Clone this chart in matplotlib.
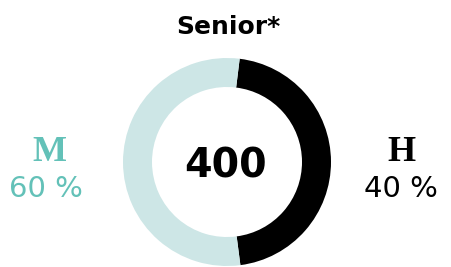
import numpy as np
import matplotlib
matplotlib.use('Agg')
import matplotlib.pyplot as plt

# data
title = u'Senior*'
total = u'400'
groups = [u'H', u'M']
pct_labels = [u'40 %', u'60 %']
ring_share = [46, 54]   # arc sizes as drawn in the picture

col_dark = '#000000'
col_ring = '#cde6e6'
col_teal = '#63c1b8'

fig = plt.figure(figsize=(4.52, 2.67), dpi=100)
ax = fig.add_axes([0, 0, 1, 1])

ax.pie(ring_share, colors=[col_dark, col_ring], startangle=83, counterclock=False,
       center=(227, 105), radius=104, wedgeprops=dict(width=29, linewidth=0))

ax.set_xlim(0, 452)
ax.set_ylim(0, 267)
ax.set_aspect('equal')
ax.axis('off')

ax.text(228, 240, title, ha='center', va='center', fontsize=18, fontweight='bold', family='DejaVu Sans')
ax.text(226, 101, total, ha='center', va='center', fontsize=28.5, fontweight='bold', family='DejaVu Sans')

# right : H
ax.text(401, 115, groups[0], ha='center', va='center', fontsize=26, fontweight='bold',
        family='Liberation Serif', color=col_dark)
ax.text(401, 78, pct_labels[0], ha='center', va='center', fontsize=21,
        family='DejaVu Sans', color=col_dark)

# left : M
ax.text(49, 115, groups[1], ha='center', va='center', fontsize=26, fontweight='bold',
        family='Liberation Serif', color=col_teal)
ax.text(46, 78, pct_labels[1], ha='center', va='center', fontsize=21,
        family='DejaVu Sans', color=col_teal)

plt.savefig('out.png', dpi=100)
